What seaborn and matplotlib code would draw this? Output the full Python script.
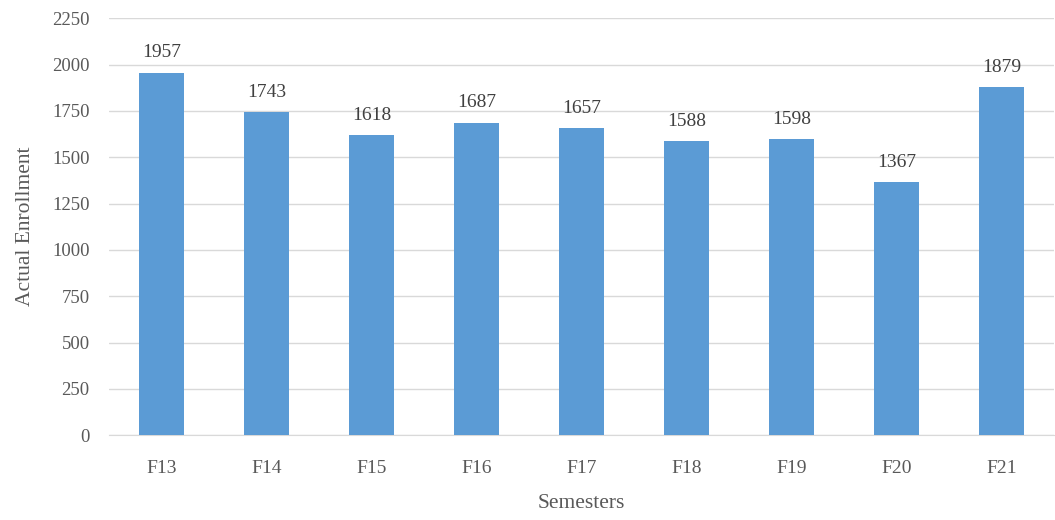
import matplotlib as mpl
mpl.use('Agg')
import matplotlib.pyplot as plt
import seaborn as sns
import pandas as pd

semesters = ['F13', 'F14', 'F15', 'F16', 'F17', 'F18', 'F19', 'F20', 'F21']
enrollment = [1957, 1743, 1618, 1687, 1657, 1588, 1598, 1367, 1879]
y_ticks = [0, 250, 500, 750, 1000, 1250, 1500, 1750, 2000, 2250]

sns.set_style('white')
plt.rcParams['font.family'] = ['Liberation Serif', 'DejaVu Serif']

df = pd.DataFrame({'Semester': semesters, 'Enrollment': enrollment})

fig = plt.figure(figsize=(10.55, 5.2), dpi=100)
ax = fig.add_axes([109 / 1055, 0.163, 945 / 1055, 0.802])
sns.barplot(data=df, x='Semester', y='Enrollment', color='#5B9BD5',
            saturation=1, width=0.43, linewidth=0, ax=ax, zorder=3)

for p, v in zip(ax.patches, enrollment):
    ax.annotate(str(v), (p.get_x() + p.get_width() / 2, v + 60),
                ha='center', va='bottom', fontsize=14, color='#404040')

ax.set_ylim(0, 2250)
ax.set_yticks(y_ticks)
ax.set_xlim(-0.5, len(semesters) - 0.5)
ax.yaxis.grid(True, color='#D9D9D9', linewidth=1, zorder=0)
for s in ['top', 'right', 'left']:
    ax.spines[s].set_visible(False)
ax.spines['bottom'].set_color('#D9D9D9')
ax.tick_params(axis='y', length=0, labelsize=13.5, colors='#595959', pad=14)
ax.tick_params(axis='x', length=0, labelsize=14, colors='#595959', pad=18)
ax.set_xlabel('Semesters', fontsize=15.5, color='#595959', labelpad=12)
ax.set_ylabel('Actual Enrollment', fontsize=15.5, color='#595959', labelpad=12)

fig.savefig('out.png', dpi=100)
